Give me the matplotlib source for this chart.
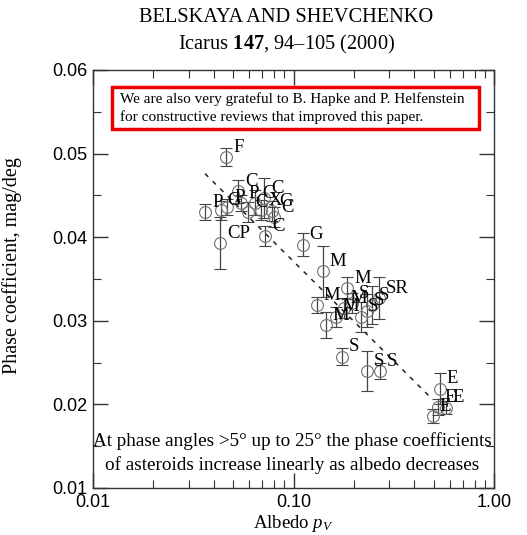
import numpy as np
import matplotlib
matplotlib.use("Agg")
import matplotlib.pyplot as plt
from matplotlib.patches import Rectangle

# Datos: albedo, coeficiente de fase, error y clase taxonomica
albedo = [0.0362, 0.0433, 0.0431, 0.0462, 0.0466, 0.0531, 0.0550, 0.0595, 0.0646,
          0.0716, 0.0692, 0.0785, 0.0803, 0.0724, 0.1109,
          0.1306, 0.1402, 0.1445, 0.1620, 0.1780, 0.1851, 0.1950, 0.2160, 0.2320,
          0.2455, 0.2660,
          0.1740, 0.2323, 0.2690,
          0.5350, 0.5250, 0.5750, 0.4950]
phase = [0.0430, 0.0432, 0.0393, 0.0496, 0.0436, 0.0455, 0.0441, 0.0430, 0.0441,
         0.0447, 0.0432, 0.0431, 0.0424, 0.0401, 0.0391,
         0.0319, 0.0359, 0.0295, 0.0305, 0.0315, 0.0339, 0.0321, 0.0305, 0.0312,
         0.0319, 0.0327,
         0.0257, 0.0240, 0.0240,
         0.0219, 0.0197, 0.0196, 0.0186]
phase_err = [0.0010, 0.0011, 0.0031, 0.0011, 0.0010, 0.0014, 0.0010, 0.0012, 0.0015,
             0.0024, 0.0012, 0.0012, 0.0012, 0.0012, 0.0014,
             0.0010, 0.0030, 0.0016, 0.0012, 0.0012, 0.0013, 0.0012, 0.0018, 0.0020,
             0.0023, 0.0025,
             0.0010, 0.0024, 0.0010,
             0.0018, 0.0010, 0.0008, 0.0008]
tax_class = ['P', 'G', 'CP', 'F', 'P', 'C', 'P', 'C', 'G',
             'C', 'X', 'G', 'C', 'C', 'G',
             'M', 'M', 'M', 'M', 'M', 'M', 'S', 'S', 'S',
             'S', 'SR',
             'S', 'S', 'S',
             'E', 'E', 'E', 'E']

# Ajuste lineal: coef = a + b*log10(pV)
fit_a = 0.0133
fit_b = -0.0238
fit_range = [0.0362, 0.489]

serif = ['Liberation Serif', 'DejaVu Serif']
sans = ['Liberation Sans', 'DejaVu Sans']
plt.rcParams['mathtext.fontset'] = 'custom'
plt.rcParams['mathtext.rm'] = 'Liberation Serif'
plt.rcParams['mathtext.it'] = 'Liberation Serif:italic'
plt.rcParams['mathtext.bf'] = 'Liberation Serif:bold'

fig = plt.figure(figsize=(5.27, 5.35), dpi=100)
W, H = 527, 535
ax = fig.add_axes([93 / W, 1 - 488 / H, (494 - 93) / W, (488 - 70) / H])

ax.errorbar(albedo, phase, yerr=phase_err, fmt='o', mfc='none', mec='#707070',
            mew=0.8, ms=8.5, ecolor='#444444', elinewidth=0.9, capsize=4,
            capthick=1.0, zorder=2)

for x, y, lab in zip(albedo, phase, tax_class):
    ax.annotate(lab, (x, y), xytext=(5, 1), textcoords='offset points',
                ha='left', va='bottom', fontsize=13.5, family=serif, zorder=3)

xf = np.logspace(np.log10(fit_range[0]), np.log10(fit_range[1]), 50)
ax.plot(xf, fit_a + fit_b * np.log10(xf), color='#222222', lw=1.1,
        linestyle=(0, (3, 4)), zorder=1)

ax.set_xscale('log')
ax.set_xlim(0.01, 1.0)
ax.set_ylim(0.01, 0.06)
ax.set_xticks([0.01, 0.1, 1.0])
ax.set_xticklabels(['0.01', '0.10', '1.00'])
ax.set_yticks([0.01, 0.02, 0.03, 0.04, 0.05, 0.06])
ax.set_yticklabels(['0.01', '0.02', '0.03', '0.04', '0.05', '0.06'])
ax.set_yticks(np.arange(0.015, 0.06, 0.01), minor=True)
ax.tick_params(which='both', direction='in', top=True, right=True, color='#333333')
ax.tick_params(which='major', length=11, width=1.0, labelsize=13, pad=4)
ax.tick_params(which='minor', length=6, width=0.8)
for t in ax.get_xticklabels() + ax.get_yticklabels():
    t.set_family(sans)
for s in ax.spines.values():
    s.set_color('#333333')
    s.set_linewidth(1.0)

ax.set_ylabel('Phase coefficient, mag/deg', family=serif, fontsize=14.5)
ax.yaxis.set_label_coords(-(93 - 22) / 401, 1 - (266 - 70) / 418)
ax.set_xlabel('Albedo $\\it{p_V}$', family=serif, fontsize=13.5, labelpad=2)

# titulo de la revista
fig.text(0.5435, 1 - 18 / H, 'BELSKAYA AND SHEVCHENKO', ha='center', va='center',
         family=serif, fontsize=14.7)
fig.text(0.5435, 1 - 44 / H, 'Icarus $\\mathbf{147}$, 94\u2013105 (2000)', ha='center',
         va='center', family=serif, fontsize=14.7)

# recuadro rojo
ax.add_patch(Rectangle((112 / W, 1 - 129 / H), (479 - 112) / W, (129 - 87) / H,
                       transform=fig.transFigure, fill=False, edgecolor='#ee0000',
                       lw=2.5, zorder=5))
fig.text(120 / W, 1 - 99 / H, 'We are also very grateful to B. Hapke and P. Helfenstein',
         ha='left', va='center', family=serif, fontsize=11)
fig.text(120 / W, 1 - 117 / H, 'for constructive reviews that improved this paper.',
         ha='left', va='center', family=serif, fontsize=11)

fig.text(292 / W, 1 - 441 / H,
         'At phase angles >5\u00b0 up to 25\u00b0 the phase coefficients',
         ha='center', va='center', family=serif, fontsize=13.8)
fig.text(292 / W, 1 - 465 / H,
         'of asteroids increase linearly as albedo decreases',
         ha='center', va='center', family=serif, fontsize=13.8)

fig.savefig('out.png', dpi=100)
